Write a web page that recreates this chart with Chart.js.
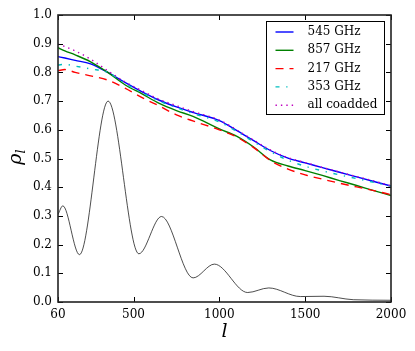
<!DOCTYPE html>
<html><head><meta charset="utf-8">
<script src="https://cdn.jsdelivr.net/npm/chart.js@4.4.0/dist/chart.umd.min.js"></script>
<style>html,body{margin:0;padding:0;background:#fff}</style>
</head><body>
<canvas id="c" width="415" height="351"></canvas>
<script>
// ---- data ----
const ells    = [60, 100, 160, 250, 350, 450, 550, 650, 750, 850, 1000, 1100, 1200, 1300, 1400, 1500, 1600, 1700, 1800, 1900, 2000];
const rho545  = [.855,.850,.842,.830,.800,.765,.732,.703,.680,.660,.632,.598,.562,.527,.501,.485,.468,.452,.436,.420,.404];
const rho857  = [.886,.875,.861,.837,.800,.757,.725,.692,.667,.646,.603,.578,.540,.494,.474,.458,.441,.423,.406,.388,.371];
const rho217  = [.806,.810,.800,.788,.773,.745,.712,.683,.652,.630,.600,.575,.538,.492,.463,.443,.428,.414,.401,.388,.374];
const rho353  = [.826,.828,.822,.812,.800,.762,.729,.700,.677,.656,.627,.595,.558,.523,.494,.473,.457,.443,.430,.417,.403];
const rhoAll  = [.898,.890,.875,.846,.806,.767,.736,.706,.684,.663,.634,.600,.564,.529,.503,.486,.469,.453,.437,.422,.405];
const cmbL    = [60, 88, 185, 352, 531, 663, 847, 971, 1165, 1288, 1472, 1610, 1780, 2000];
const cmbV    = [0.305,0.335,0.165,0.700,0.168,0.298,0.084,0.132,0.033,0.049,0.019,0.020,0.008,0.006];
const seriesNames = ['545 GHz','857 GHz','217 GHz','353 GHz','all coadded'];
const xTicks = [60, 500, 1000, 1500, 2000];
const yTicks = [0,0.1,0.2,0.3,0.4,0.5,0.6,0.7,0.8,0.9,1.0];
const yTickLabels = ['0.0','0.1','0.2','0.3','0.4','0.5','0.6','0.7','0.8','0.9','1.0'];

const pts = (xs, ys) => xs.map((v,i)=>({x:v, y:ys[i]}));
const serif = '"DejaVu Serif", "Liberation Serif", serif';

const datasets = [
  {label:seriesNames[0], data:pts(ells,rho545), borderColor:'#0000ff', borderWidth:1.4, order:4},
  {label:seriesNames[1], data:pts(ells,rho857), borderColor:'#008000', borderWidth:1.4, order:3},
  {label:seriesNames[2], data:pts(ells,rho217), borderColor:'#ff0000', borderWidth:1.4, borderDash:[8,6], order:2},
  {label:seriesNames[3], data:pts(ells,rho353), borderColor:'#00bfbf', borderWidth:1.4, borderDash:[4,6.7,1.3,6.7], order:1},
  {label:seriesNames[4], data:pts(ells,rhoAll), borderColor:'#bf00bf', borderWidth:1.4, borderDash:[1.4,4], order:0},
  {label:'', data:pts(cmbL,cmbV), borderColor:'#000', borderWidth:0.7, order:5, legendHide:true}
];
datasets.forEach(d=>{d.fill=false; d.pointRadius=0; d.cubicInterpolationMode='monotone';});

const decor = {
  id:'decor',
  afterDatasetsDraw(chart){
    const {ctx, chartArea:a, scales:{x,y}} = chart;
    ctx.save();
    ctx.strokeStyle='#000'; ctx.lineWidth=1;
    const L=5;
    ctx.beginPath();
    xTicks.forEach(v=>{const p=Math.round(x.getPixelForValue(v))+0.5;
      ctx.moveTo(p,a.bottom); ctx.lineTo(p,a.bottom-L); ctx.moveTo(p,a.top); ctx.lineTo(p,a.top+L);});
    yTicks.forEach(v=>{const p=Math.round(y.getPixelForValue(v))+0.5;
      ctx.moveTo(a.left,p); ctx.lineTo(a.left+L,p); ctx.moveTo(a.right,p); ctx.lineTo(a.right-L,p);});
    ctx.stroke();
    ctx.strokeStyle='#222'; ctx.lineWidth=1.6;
    ctx.strokeRect(a.left,a.top,a.right-a.left,a.bottom-a.top);
    // x title
    ctx.fillStyle='#000';
    ctx.font='italic 19px '+serif; ctx.textAlign='center'; ctx.textBaseline='alphabetic';
    ctx.fillText('l',(a.left+a.right)/2,337);
    // y title
    ctx.save();
    ctx.translate(21,157); ctx.rotate(-Math.PI/2);
    ctx.font='italic 19px '+serif; const w1=ctx.measureText('ρ').width;
    ctx.font='italic 13px '+serif; const w2=ctx.measureText('l').width;
    const x0=-(w1+w2)/2;
    ctx.textAlign='left';
    ctx.font='italic 19px '+serif; ctx.fillText('ρ',x0,0);
    ctx.font='italic 13px '+serif; ctx.fillText('l',x0+w1,4);
    ctx.restore();
    // legend
    const bx=a.right-6.5, by=a.top+6.5, bw=118, bh=93;
    ctx.fillStyle='#fff'; ctx.fillRect(bx-bw,by,bw,bh);
    ctx.strokeStyle='#000'; ctx.lineWidth=1; ctx.strokeRect(bx-bw,by,bw,bh);
    ctx.font='12px '+serif; ctx.textAlign='left'; ctx.textBaseline='middle';
    chart.data.datasets.filter(d=>!d.legendHide).forEach((d,i)=>{
      const yy=by+10.5+i*18.3;
      ctx.strokeStyle=d.borderColor; ctx.lineWidth=d.borderWidth; ctx.setLineDash(d.borderDash||[]);
      ctx.beginPath(); ctx.moveTo(bx-bw+9,yy); ctx.lineTo(bx-bw+27,yy); ctx.stroke();
      ctx.setLineDash([]);
      ctx.fillStyle='#000'; ctx.fillText(d.label,bx-bw+41,yy);
    });
    ctx.restore();
  }
};

new Chart(document.getElementById('c'), {
  type:'line',
  data:{datasets},
  options:{
    responsive:false, animation:false, devicePixelRatio:1,
    layout:{padding:{left:0,right:24,top:15,bottom:0}},
    plugins:{legend:{display:false}, tooltip:{enabled:false}},
    scales:{
      x:{type:'linear', min:60, max:2000,
        afterBuildTicks:s=>{s.ticks=xTicks.map(v=>({value:v}));},
        afterFit:s=>{s.height=49;},
        grid:{display:false, drawTicks:false}, border:{display:false},
        ticks:{color:'#000', font:{family:serif, size:12}, padding:6, maxRotation:0, autoSkip:false,
          callback:v=>String(v)}},
      y:{type:'linear', min:0, max:1,
        afterBuildTicks:s=>{s.ticks=yTicks.map(v=>({value:v}));},
        afterFit:s=>{s.width=58;},
        grid:{display:false, drawTicks:false}, border:{display:false},
        ticks:{color:'#000', font:{family:serif, size:12}, padding:6, autoSkip:false,
          callback:(v)=>yTickLabels[yTicks.findIndex(t=>Math.abs(t-v)<1e-6)]}}
    }
  },
  plugins:[decor]
});
</script>
</body></html>
